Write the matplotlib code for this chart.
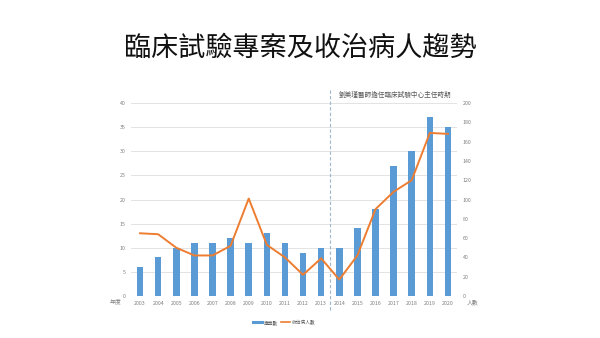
import matplotlib
matplotlib.use("Agg")
import matplotlib.pyplot as plt
from matplotlib.lines import Line2D
import numpy as np

plt.rcParams['font.family'] = ['Noto Sans CJK TC', 'DejaVu Sans']

years = ["2003", "2004", "2005", "2006", "2007", "2008", "2009", "2010", "2011",
         "2012", "2013", "2014", "2015", "2016", "2017", "2018", "2019", "2020"]
projects = [6, 8, 10, 11, 11, 12, 11, 13, 11, 9, 10, 10, 14, 18, 27, 30, 37, 35]
patients = [65, 64, 50, 42, 42, 52, 101, 53, 40, 22, 39, 17, 42, 90, 108, 120, 169, 168]
left_ticks = [0, 5, 10, 15, 20, 25, 30, 35, 40]
right_ticks = [0, 20, 40, 60, 80, 100, 120, 140, 160, 180, 200]

title = "臨床試驗專案及收治病人趨勢"
note = "劉美瑾醫師擔任臨床試驗中心主任時期"
bar_label = "專案數"
line_label = "收治病人數"

W, H = 600, 338
fig = plt.figure(figsize=(W / 100, H / 100), dpi=100)
ax = fig.add_axes([131 / W, 1 - 296 / H, 326 / W, 193 / H])
ax2 = ax.twinx()

x = np.arange(len(years))
bar_c = "#5B9BD5"
line_c = "#ED7D31"
tick_c = "#7F7F7F"

ax.bar(x, projects, width=0.36, color=bar_c, label=bar_label, zorder=2)
ax2.plot(x, patients, color=line_c, lw=1.4, label=line_label, zorder=3)

ax.set_xlim(-0.5, len(years) - 0.5)
ax.set_ylim(0, 40)
ax2.set_ylim(0, 200)
ax.set_yticks(left_ticks)
ax2.set_yticks(right_ticks)
ax.set_xticks(x)
ax.set_xticklabels(years)
for a in (ax, ax2):
    for s in a.spines.values():
        s.set_visible(False)
    a.tick_params(length=0, labelsize=3.8, colors=tick_c, pad=4)
ax.tick_params(axis='x', pad=3.5)
ax.yaxis.grid(True, color="#E3E3E3", lw=0.7, zorder=0)
ax.set_axisbelow(True)
ax2.set_zorder(ax.get_zorder() + 1)
ax2.patch.set_visible(False)

# dashed divider
ax.axvline(10.5, ymin=-0.075, ymax=1.08, color="#9FB6CC", lw=0.8,
           ls=(0, (3, 2)), clip_on=False, zorder=1)

fig.text(339 / W, 1 - 95 / H, note, fontsize=4.8, color="#595959",
         ha="left", va="center")
fig.text(116 / W, 1 - 303 / H, "年度", fontsize=4.2, color=tick_c,
         ha="center", va="center")
fig.text(473 / W, 1 - 303 / H, "人數", fontsize=4.2, color=tick_c,
         ha="center", va="center")

fig.text(0.5, 1 - 48 / H, title, fontsize=19.5, color="#111111",
         ha="center", va="center")

handles = [Line2D([], [], color=bar_c, lw=2.2), Line2D([], [], color=line_c, lw=1.2)]
fig.legend(handles, [bar_label, line_label], loc="center",
           bbox_to_anchor=(284 / W, 1 - 322 / H), ncol=2, frameon=False,
           fontsize=3.4, handlelength=2.0, handletextpad=0.3, columnspacing=0.6,
           labelcolor="#595959")

fig.savefig("out.png", dpi=100, facecolor="white")
